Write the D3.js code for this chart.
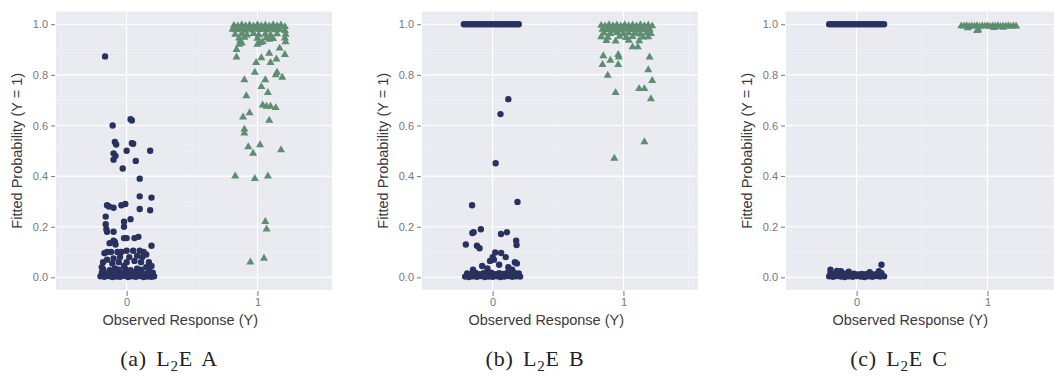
<!DOCTYPE html>
<html><head><meta charset="utf-8">
<script src="https://cdn.jsdelivr.net/npm/d3@7"></script>
<style>body{margin:0;background:#fff}</style></head>
<body><svg id="c" width="1054" height="379"></svg>
<script>
// ---------- data ----------
const yTicks = [0, 0.2, 0.4, 0.6, 0.8, 1.0];
const yMinor = [0.1, 0.3, 0.5, 0.7, 0.9];
const xTicks = [0, 1];
const xMinor = [-0.5, 0.5, 1.5];
const xTitle = "Observed Response (Y)";
const yTitle = "Fitted Probability (Y = 1)";
const capPre = ["(a) L", "(b) L", "(c) L"];
const capSub = ["2", "2", "2"];
const capPost = ["E A", "E B", "E C"];

// Panel A, observed Y = 0 (jittered x, fitted prob)
const aZero = [
 [-0.165,0.873],[0.03,0.625],[0.04,0.62],[-0.107,0.60],[-0.09,0.535],[-0.08,0.525],[0.04,0.53],[0.05,0.528],
 [0.0,0.50],[0.18,0.50],[-0.1,0.49],[-0.085,0.48],[-0.1,0.465],[0.07,0.46],[-0.03,0.43],[0.1,0.39],[0.1,0.32],
 [0.19,0.315],[-0.15,0.285],[-0.135,0.28],[-0.1,0.275],[-0.04,0.285],[0.1,0.27],[0.18,0.265],[-0.16,0.24],
 [0.03,0.23],[-0.02,0.22],[-0.16,0.21],[-0.155,0.19],[-0.15,0.18],[-0.02,0.2],[-0.1,0.18],[0.19,0.125],
 [-0.02,0.155],[0.0,0.155],[0.06,0.155],[-0.09,0.14],[-0.085,0.13],[-0.15,0.1],[-0.01,0.29],[0.09,0.16],
 [-0.13,0.135],[-0.1,0.145],
 [-0.17,0.095],[-0.12,0.1],[-0.07,0.1],[-0.04,0.1],[0.0,0.105],[0.05,0.105],[0.1,0.105],[0.13,0.1],[0.15,0.09],
 [0.12,0.08],[0.08,0.085],[0.02,0.08],[-0.05,0.08],[-0.1,0.075],[-0.15,0.07],[-0.18,0.06],[-0.11,0.055],
 [-0.06,0.06],[0.0,0.06],[0.06,0.065],[0.11,0.06],[0.17,0.06],[0.19,0.045],[-0.02,0.045],[0.15,0.04],
 [-0.2,0.004],[-0.17,0.002],[-0.14,0.005],[-0.11,0.001],[-0.08,0.003],[-0.05,0.002],[-0.02,0.006],[0.01,0.001],
 [0.04,0.004],[0.07,0.002],[0.1,0.005],[0.13,0.001],[0.16,0.003],[0.19,0.002],[0.21,0.004],
 [-0.19,0.018],[-0.155,0.014],[-0.125,0.02],[-0.095,0.012],[-0.065,0.017],[-0.035,0.015],[-0.005,0.019],
 [0.025,0.013],[0.055,0.018],[0.085,0.014],[0.115,0.02],[0.145,0.012],[0.175,0.016],[0.2,0.018],
 [-0.18,0.032],[-0.13,0.028],[-0.09,0.035],[-0.06,0.03],[-0.01,0.033],[0.03,0.028],[0.08,0.034],[0.11,0.03],
 [0.17,0.029],[-0.19,0.04]
];
// Panel A, observed Y = 1
const aOne = [
 [0.84,0.90],[0.86,0.92],[0.87,0.935],[0.88,0.925],[1.02,0.927],[1.0,0.92],[1.04,0.93],[1.09,0.94],[0.84,0.87],
 [1.17,0.905],[1.09,0.885],[1.21,0.88],[1.03,0.867],[1.145,0.862],[0.99,0.848],[1.1,0.848],[1.15,0.81],[1.14,0.80],
 [0.98,0.81],[1.19,0.79],[0.90,0.78],[1.06,0.78],[1.03,0.753],[1.08,0.73],[0.915,0.717],[1.04,0.68],[1.07,0.675],
 [1.1,0.675],[1.14,0.67],[0.94,0.65],[0.89,0.633],[1.09,0.62],[0.9,0.585],[0.9,0.57],[1.02,0.523],[0.93,0.515],
 [0.967,0.49],[1.18,0.503],[0.83,0.4],[0.98,0.39],[1.08,0.4],[1.06,0.22],[1.07,0.19],[0.946,0.06],[1.05,0.075],
 [1.21,0.99],[1.21,0.975],[1.215,0.96],[1.21,0.945],[1.215,0.93],
 [0.82,0.995],[0.85,0.993],[0.88,0.997],[0.91,0.994],[0.94,0.996],[0.97,0.993],[1.0,0.997],[1.03,0.994],
 [1.06,0.996],[1.09,0.993],[1.12,0.997],[1.15,0.994],[1.18,0.996],
 [0.81,0.98],[0.84,0.978],[0.87,0.982],[0.9,0.976],[0.93,0.981],[0.96,0.977],[0.99,0.983],[1.02,0.979],
 [1.05,0.981],[1.08,0.977],[1.11,0.982],[1.14,0.978],[1.17,0.98],
 [0.83,0.96],[0.88,0.962],[0.92,0.957],[0.97,0.963],[1.01,0.958],[1.06,0.961],[1.1,0.957],[1.15,0.962],
 [0.86,0.945],[0.9,0.948],[1.0,0.944],[1.07,0.947],[1.12,0.943]
];
// Panel B, observed Y = 0
const bZero = [
 [-0.22,1],[-0.2,1],[-0.18,1],[-0.16,1],[-0.14,1],[-0.12,1],[-0.1,1],[-0.08,1],[-0.06,1],[-0.04,1],[-0.02,1],
 [0.0,1],[0.02,1],[0.04,1],[0.06,1],[0.08,1],[0.1,1],[0.12,1],[0.14,1],[0.16,1],[0.18,1],[0.2,1],
 [0.12,0.704],[0.06,0.645],[0.023,0.451],[-0.157,0.285],[0.19,0.298],[-0.09,0.19],[-0.155,0.175],[-0.145,0.178],
 [0.064,0.171],[0.11,0.178],[-0.205,0.13],[-0.12,0.125],[-0.1,0.115],[0.18,0.145],[0.183,0.128],[0.02,0.098],
 [0.065,0.096],[0.0,0.08],[-0.02,0.065],[0.01,0.07],[0.1,0.08],[0.17,0.06],[0.185,0.055],[0.05,0.05],
 [-0.08,0.045],[0.12,0.04],[-0.15,0.03],[-0.04,0.035],[0.15,0.03],
 [-0.21,0.003],[-0.18,0.001],[-0.15,0.004],[-0.12,0.002],[-0.09,0.005],[-0.06,0.001],[-0.03,0.003],[0.0,0.002],
 [0.03,0.004],[0.06,0.001],[0.09,0.003],[0.12,0.005],[0.15,0.002],[0.18,0.004],[0.21,0.003],
 [-0.195,0.015],[-0.16,0.013],[-0.13,0.017],[-0.1,0.012],[-0.07,0.016],[-0.04,0.014],[-0.01,0.018],[0.02,0.012],
 [0.05,0.016],[0.08,0.013],[0.11,0.017],[0.14,0.014],[0.17,0.016],[0.2,0.015]
];
// Panel B, observed Y = 1
const bOne = [
 [0.83,0.995],[0.86,0.993],[0.89,0.997],[0.92,0.994],[0.95,0.996],[0.98,0.993],[1.01,0.997],[1.04,0.994],
 [1.07,0.996],[1.1,0.993],[1.13,0.997],[1.16,0.994],[1.19,0.996],[1.22,0.993],
 [0.84,0.98],[0.87,0.978],[0.9,0.982],[0.93,0.976],[0.96,0.981],[0.99,0.977],[1.02,0.983],[1.05,0.979],
 [1.08,0.981],[1.11,0.977],[1.14,0.982],[1.17,0.978],[1.2,0.98],
 [0.85,0.965],[0.9,0.963],[0.95,0.967],[1.0,0.962],[1.04,0.966],[1.09,0.964],[1.13,0.961],[1.18,0.966],[1.21,0.963],
 [0.83,0.95],[0.88,0.948],[0.97,0.952],[1.02,0.947],[1.07,0.951],[1.15,0.949],[1.19,0.95],
 [0.87,0.935],[0.94,0.933],[1.04,0.936],[1.12,0.934],
 [0.846,0.875],[0.9,0.857],[0.84,0.84],[0.96,0.84],[0.96,0.88],[0.965,0.87],[0.88,0.798],[0.94,0.73],
 [1.07,0.91],[1.11,0.91],[1.2,0.87],[1.19,0.82],[1.22,0.777],[1.12,0.745],[1.16,0.745],[1.21,0.705],
 [1.16,0.535],[0.93,0.47]
];
// Panel C, observed Y = 0
const cZero = [
 [-0.21,1],[-0.19,1],[-0.17,1],[-0.15,1],[-0.13,1],[-0.11,1],[-0.09,1],[-0.07,1],[-0.05,1],[-0.03,1],[-0.01,1],
 [0.01,1],[0.03,1],[0.05,1],[0.07,1],[0.09,1],[0.11,1],[0.13,1],[0.15,1],[0.17,1],[0.19,1],[0.21,1],
 [-0.21,0.004],[-0.18,0.002],[-0.15,0.005],[-0.12,0.003],[-0.09,0.001],[-0.06,0.004],[-0.03,0.002],[0.0,0.005],
 [0.03,0.003],[0.06,0.001],[0.09,0.004],[0.12,0.002],[0.15,0.005],[0.18,0.003],[0.21,0.004],
 [-0.2,0.016],[-0.17,0.014],[-0.14,0.017],[-0.11,0.013],[-0.08,0.015],[-0.05,0.012],[-0.02,0.014],[0.01,0.011],
 [0.04,0.013],[0.07,0.012],[0.1,0.015],[0.13,0.011],[0.16,0.014],[0.19,0.016],
 [-0.2,0.03],[-0.15,0.025],[-0.12,0.024],[-0.06,0.022],[0.1,0.02],[0.17,0.024],[0.19,0.05]
];
// Panel C, observed Y = 1
const cOne = [
 [0.8,0.993],[0.82,0.992],[0.84,0.994],[0.86,0.991],[0.88,0.993],[0.9,0.992],[0.92,0.994],[0.94,0.991],
 [0.96,0.993],[0.98,0.992],[1.0,0.994],[1.02,0.991],[1.04,0.993],[1.06,0.992],[1.08,0.994],[1.1,0.991],
 [1.12,0.993],[1.14,0.992],[1.16,0.994],[1.18,0.991],[1.2,0.993],[1.22,0.992],
 [0.92,0.975],[0.93,0.978],[0.85,0.985],[1.05,0.986],[1.12,0.987]
];

const panels = [
  {zero: aZero, one: aOne},
  {zero: bZero, one: bOne},
  {zero: cZero, one: cOne}
];

// ---------- drawing ----------
const svg = d3.select("#c");
const offsets = [0, 366, 730];
const x = d3.scaleLinear().domain([-0.54, 1.57]).range([56, 332]);
const y = d3.scaleLinear().domain([-0.05, 1.05]).range([290, 11.6]);
const zeroCol = "#29325e", oneCol = "#5e8d71";
const bg = "#e9ebf1";

panels.forEach((p, i) => {
  const g = svg.append("g").attr("transform", `translate(${offsets[i]},0)`);
  g.append("rect").attr("x", x.range()[0]).attr("y", y.range()[1])
    .attr("width", x.range()[1] - x.range()[0]).attr("height", y.range()[0] - y.range()[1])
    .attr("fill", bg);
  // minor grid
  g.selectAll(".ymin").data(yMinor).join("line")
    .attr("x1", x.range()[0]).attr("x2", x.range()[1])
    .attr("y1", d => y(d)).attr("y2", d => y(d))
    .attr("stroke", "#f2f3f7").attr("stroke-width", 0.6);
  g.selectAll(".xmin").data(xMinor).join("line")
    .attr("y1", y.range()[0]).attr("y2", y.range()[1])
    .attr("x1", d => x(d)).attr("x2", d => x(d))
    .attr("stroke", "#f2f3f7").attr("stroke-width", 0.6);
  // major grid
  g.selectAll(".ymaj").data(yTicks).join("line")
    .attr("x1", x.range()[0]).attr("x2", x.range()[1])
    .attr("y1", d => y(d)).attr("y2", d => y(d))
    .attr("stroke", "#ffffff").attr("stroke-width", 1.1);
  g.selectAll(".xmaj").data(xTicks).join("line")
    .attr("y1", y.range()[0]).attr("y2", y.range()[1])
    .attr("x1", d => x(d)).attr("x2", d => x(d))
    .attr("stroke", "#ffffff").attr("stroke-width", 1.1);

  // axes
  const ya = g.append("g").attr("transform", `translate(${x.range()[0] - 1},0)`)
    .call(d3.axisLeft(y).tickValues(yTicks).tickFormat(d3.format(".1f")).tickSize(4).tickPadding(3));
  const xa = g.append("g").attr("transform", `translate(0,${y.range()[0] + 1})`)
    .call(d3.axisBottom(x).tickValues(xTicks).tickFormat(d3.format("d")).tickSize(5).tickPadding(2));
  [ya, xa].forEach(a => {
    a.select(".domain").remove();
    a.selectAll("line").attr("stroke", "#777");
    a.selectAll("text").attr("fill", "#777").style("font-family", "Liberation Sans, Arial, sans-serif")
      .style("font-size", "11px");
  });

  // points
  const circ = d3.symbol().type(d3.symbolCircle).size(32);
  const tri = d3.symbol().type(d3.symbolTriangle).size(28);
  g.append("g").selectAll("path").data(p.zero).join("path")
    .attr("d", circ).attr("fill", zeroCol)
    .attr("transform", d => `translate(${x(d[0])},${y(d[1])})`);
  g.append("g").selectAll("path").data(p.one).join("path")
    .attr("d", tri).attr("fill", oneCol)
    .attr("transform", d => `translate(${x(d[0])},${y(d[1])})`);

  // titles
  g.append("text").attr("x", x(0.41)).attr("y", 325).attr("text-anchor", "middle")
    .style("font-family", "Liberation Sans, Arial, sans-serif").style("font-size", "14.5px")
    .attr("fill", "#3a3a3a").text(xTitle);
  g.append("text").attr("transform", `translate(22,${(y.range()[0] + y.range()[1]) / 2}) rotate(-90)`)
    .attr("text-anchor", "middle")
    .style("font-family", "Liberation Sans, Arial, sans-serif").style("font-size", "14.5px")
    .attr("fill", "#3a3a3a").text(yTitle);

  // caption
  const cap = g.append("text").attr("x", 169).attr("y", 366).attr("text-anchor", "middle")
    .style("font-family", "Liberation Serif, Times New Roman, serif").style("font-size", "22px")
    .style("letter-spacing", "0.8px").style("word-spacing", "3px").attr("fill", "#222");
  cap.append("tspan").text(capPre[i]);
  cap.append("tspan").attr("dy", 5).style("font-size", "15px").text(capSub[i]);
  cap.append("tspan").attr("dy", -5).text(capPost[i]);
});
</script>
</body></html>
